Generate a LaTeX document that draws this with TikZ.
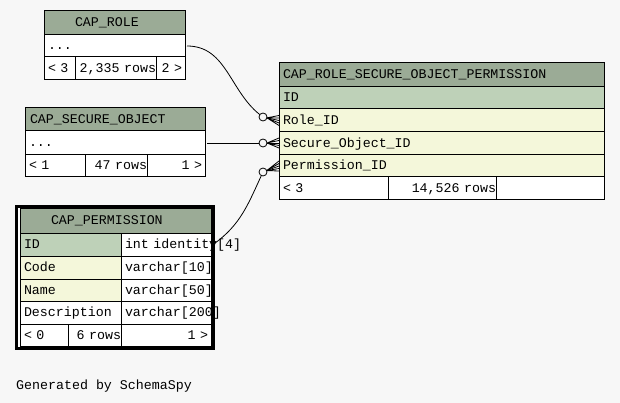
\documentclass[tikz,border=0pt]{standalone}
\usepackage{fontspec}
\newfontfamily\tabfont{Liberation Mono}
\usetikzlibrary{arrows.meta,positioning,calc}

\definecolor{bgc}{HTML}{F7F7F7}
\definecolor{hdrc}{HTML}{9BAB96}
\definecolor{pkc}{HTML}{BED1B8}
\definecolor{fkc}{HTML}{F4F7DA}

\tikzset{
  cell/.style={draw=black, line width=1pt, anchor=north west, inner xsep=0pt,
    inner ysep=0pt, outer sep=0pt, font=\tabfont\fontsize{13.3}{15}\selectfont,
    text height=10.5pt, text depth=2.5pt, align=left},
  hdr/.style={cell, fill=hdrc},
  pk/.style={cell, fill=pkc},
  fk/.style={cell, fill=fkc},
  wh/.style={cell, fill=white},
  num/.style={align=right},
  sz/.style n args={3}{minimum width=#1pt, minimum height=#2pt, text width=#1pt-2*#3pt},
  rel/.style={line width=0.8pt},
}

% zero-or-many end: circle at #1, crow's foot on the table at #2
\newcommand\crowfoot[2]{%
  \draw[rel] (#1) -- (#2);
  \draw[rel] ($(#1)!4pt!(#2)$) -- ([yshift=5pt]#2)
             ($(#1)!4pt!(#2)$) -- ([yshift=-5pt]#2)
             ($(#1)!4pt!(#2)$) -- ([yshift=2.5pt]#2)
             ($(#1)!4pt!(#2)$) -- ([yshift=-2.5pt]#2);
  \draw[rel, fill=bgc] (#1) circle (4pt);
}

\begin{document}
\begin{tikzpicture}[x=1pt,y=1pt]
\fill[bgc] (0,0) rectangle (620,-403);
\useasboundingbox (0,0) rectangle (620,-403);

% CAP_ROLE
\node[hdr, sz={141}{24}{31}] (rolehdr) at (44,-11) {CAP\_ROLE};
\node[wh, sz={141}{22}{4}] (roledots) at (44,-35) {...};
\node[wh, sz={31}{23}{4}] (rolef1) at (44,-57) {< 3};
\node[wh, num, sz={81}{23}{0}] (rolef2) at (75,-57) {2,335 rows};
\node[wh, num, sz={29}{23}{3}] (rolef3) at (156,-57) {2 >};

% CAP_SECURE_OBJECT
\node[hdr, sz={180}{23}{5}] (sohdr) at (25,-108) {CAP\_SECURE\_OBJECT};
\node[wh, sz={180}{24}{4}] (sodots) at (25,-131) {...};
\node[wh, sz={60}{22}{4}] (sof1) at (25,-155) {< 1};
\node[wh, num, sz={62}{22}{0}] (sof2) at (85,-155) {47 rows};
\node[wh, num, sz={58}{22}{3}] (sof3) at (147,-155) {1 >};

% CAP_ROLE_SECURE_OBJECT_PERMISSION
\node[hdr, sz={325}{24}{4}] (jhdr) at (279,-63) {CAP\_ROLE\_SECURE\_OBJECT\_PERMISSION};
\node[pk, sz={325}{22}{4}] (jid) at (279,-87) {ID};
\node[fk, sz={325}{23}{4}] (jrole) at (279,-109) {Role\_ID};
\node[fk, sz={325}{23}{4}] (jso) at (279,-132) {Secure\_Object\_ID};
\node[fk, sz={325}{22}{4}] (jperm) at (279,-155) {Permission\_ID};
\node[wh, sz={109}{23}{4}] (jf1) at (279,-177) {< 3};
\node[wh, num, sz={108}{23}{0}] (jf2) at (388,-177) {14,526 rows};
\node[wh, sz={108}{23}{4}] (jf3) at (496,-177) {};

% CAP_PERMISSION
\draw[line width=3pt, fill=white] (16.5,-206.5) rectangle (213.5,-348.5);
\node[hdr, sz={191}{24}{31}] (phdr) at (20,-209) {CAP\_PERMISSION};
\node[pk, sz={101}{23}{4}] (pid) at (20,-233) {ID};
\node[wh, sz={90}{23}{4}] (pidt) at (121,-233) {\mbox{int identity[4]}};
\node[fk, sz={101}{23}{4}] (pcode) at (20,-256) {Code};
\node[wh, sz={90}{23}{4}] (pcodet) at (121,-256) {varchar[10]};
\node[fk, sz={101}{22}{4}] (pname) at (20,-279) {Name};
\node[wh, sz={90}{22}{4}] (pnamet) at (121,-279) {varchar[50]};
\node[wh, sz={101}{23}{4}] (pdesc) at (20,-301) {Description};
\node[wh, sz={90}{23}{4}] (pdesct) at (121,-301) {\mbox{varchar[200]}};
\node[wh, sz={48}{22}{4}] (pf1) at (20,-324) {< 0};
\node[wh, num, sz={53}{22}{0}] (pf2) at (68,-324) {6 rows};
\node[wh, num, sz={90}{22}{3}] (pf3) at (121,-324) {1 >};

% relationships
\coordinate (rolecirc) at ([xshift=-16pt,yshift=3.5pt]jrole.west);
\coordinate (sotab) at (sodots.east -| jso.west);
\coordinate (socirc) at ([xshift=-16pt]sotab);
\coordinate (permcirc) at ([xshift=-16pt,yshift=-6pt]jperm.west);

\draw[rel] ([xshift=2pt]roledots.east) to[out=0, in=145] (rolecirc);
\draw[rel] ([xshift=2pt]sodots.east) -- (socirc);
\draw[rel] ([xshift=2pt]pidt.east) to[out=35, in=245] (permcirc);
\crowfoot{rolecirc}{jrole.west}
\crowfoot{socirc}{sotab}
\crowfoot{permcirc}{jperm.west}

\node[anchor=base west, font=\tabfont\fontsize{13.3}{15}\selectfont, inner sep=0pt] (credit) at (16,-389) {Generated by SchemaSpy};
\end{tikzpicture}
\end{document}
